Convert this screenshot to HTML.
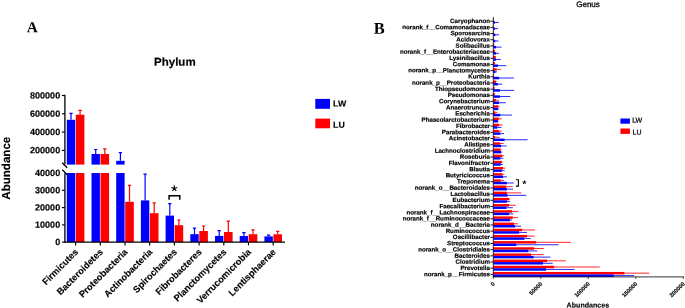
<!DOCTYPE html>
<html><head><meta charset="utf-8"><title>Figure</title>
<style>html,body{margin:0;padding:0;background:#fff;}body{width:685px;height:308px;position:relative;overflow:hidden;font-family:"Liberation Sans",sans-serif;}</style></head>
<body>
<svg width="685" height="308" viewBox="0 0 685 308" style="position:absolute;left:0;top:0;will-change:transform;text-rendering:geometricPrecision;font-family:'Liberation Sans',sans-serif">
<rect width="685" height="308" fill="#fff"/>
<text transform="translate(26.85,32.15) rotate(0.03)" font-family="'Liberation Serif',serif" font-weight="bold" font-size="15.3">A</text>
<text transform="translate(174.85,65.85) rotate(0.03)" font-weight="bold" font-size="11.5" text-anchor="middle" stroke="#000" stroke-width="0.2">Phylum</text>
<text transform="translate(9.9,168.2) rotate(-90)" font-weight="bold" font-size="11.55" text-anchor="middle" stroke="#000" stroke-width="0.15">Abundance</text>
<rect x="66.80" y="173.00" width="8.40" height="69.10" fill="#0000ff"/>
<rect x="75.80" y="173.00" width="8.60" height="69.10" fill="#ff0000"/>
<path d="M71.00 119.80V113.20M69.35 113.30H72.65" stroke="#0000ff" stroke-width="1.2" fill="none"/>
<rect x="66.80" y="119.80" width="8.40" height="44.80" fill="#0000ff"/>
<path d="M80.10 114.70V110.20M78.45 110.30H81.75" stroke="#ff0000" stroke-width="1.2" fill="none"/>
<rect x="75.80" y="114.70" width="8.60" height="49.90" fill="#ff0000"/>
<path d="M75.60 242.10v3.3" stroke="#000" stroke-width="1.15"/>
<text transform="translate(78.80,252.60) rotate(-45)" font-weight="bold" font-size="9.2" text-anchor="end" stroke="#000" stroke-width="0.15">Firmicutes</text>
<rect x="91.50" y="173.00" width="8.40" height="69.10" fill="#0000ff"/>
<rect x="100.50" y="173.00" width="8.60" height="69.10" fill="#ff0000"/>
<path d="M95.70 154.00V149.40M94.05 149.50H97.35" stroke="#0000ff" stroke-width="1.2" fill="none"/>
<rect x="91.50" y="154.00" width="8.40" height="10.60" fill="#0000ff"/>
<path d="M104.80 154.00V148.70M103.15 148.80H106.45" stroke="#ff0000" stroke-width="1.2" fill="none"/>
<rect x="100.50" y="154.00" width="8.60" height="10.60" fill="#ff0000"/>
<path d="M100.30 242.10v3.3" stroke="#000" stroke-width="1.15"/>
<text transform="translate(103.50,252.60) rotate(-45)" font-weight="bold" font-size="9.2" text-anchor="end" stroke="#000" stroke-width="0.15">Bacteroidetes</text>
<path d="M129.50 201.80V185.20M127.85 185.30H131.15" stroke="#ff0000" stroke-width="1.2" fill="none"/>
<rect x="116.20" y="173.00" width="8.40" height="69.10" fill="#0000ff"/>
<rect x="125.20" y="201.80" width="8.60" height="40.30" fill="#ff0000"/>
<path d="M120.40 160.80V152.60M118.75 152.70H122.05" stroke="#0000ff" stroke-width="1.2" fill="none"/>
<rect x="116.20" y="160.80" width="8.40" height="3.80" fill="#0000ff"/>
<path d="M125.00 242.10v3.3" stroke="#000" stroke-width="1.15"/>
<text transform="translate(128.20,252.60) rotate(-45)" font-weight="bold" font-size="9.2" text-anchor="end" stroke="#000" stroke-width="0.15">Proteobacteria</text>
<path d="M145.10 200.40V174.00M143.45 174.10H146.75" stroke="#0000ff" stroke-width="1.2" fill="none"/>
<path d="M154.20 213.20V202.70M152.55 202.80H155.85" stroke="#ff0000" stroke-width="1.2" fill="none"/>
<rect x="140.90" y="200.40" width="8.40" height="41.70" fill="#0000ff"/>
<rect x="149.90" y="213.20" width="8.60" height="28.90" fill="#ff0000"/>
<path d="M149.70 242.10v3.3" stroke="#000" stroke-width="1.15"/>
<text transform="translate(152.90,252.60) rotate(-45)" font-weight="bold" font-size="9.2" text-anchor="end" stroke="#000" stroke-width="0.15">Actinobacteria</text>
<path d="M169.80 215.60V203.60M168.15 203.70H171.45" stroke="#0000ff" stroke-width="1.2" fill="none"/>
<path d="M178.90 225.20V219.90M177.25 220.00H180.55" stroke="#ff0000" stroke-width="1.2" fill="none"/>
<rect x="165.60" y="215.60" width="8.40" height="26.50" fill="#0000ff"/>
<rect x="174.60" y="225.20" width="8.60" height="16.90" fill="#ff0000"/>
<path d="M174.40 242.10v3.3" stroke="#000" stroke-width="1.15"/>
<text transform="translate(177.60,252.60) rotate(-45)" font-weight="bold" font-size="9.2" text-anchor="end" stroke="#000" stroke-width="0.15">Spirochaetes</text>
<path d="M194.50 234.20V228.00M192.85 228.10H196.15" stroke="#0000ff" stroke-width="1.2" fill="none"/>
<path d="M203.60 231.00V225.90M201.95 226.00H205.25" stroke="#ff0000" stroke-width="1.2" fill="none"/>
<rect x="190.30" y="234.20" width="8.40" height="7.90" fill="#0000ff"/>
<rect x="199.30" y="231.00" width="8.60" height="11.10" fill="#ff0000"/>
<path d="M199.10 242.10v3.3" stroke="#000" stroke-width="1.15"/>
<text transform="translate(202.30,252.60) rotate(-45)" font-weight="bold" font-size="9.2" text-anchor="end" stroke="#000" stroke-width="0.15">Fibrobacteres</text>
<path d="M219.20 235.90V230.60M217.55 230.70H220.85" stroke="#0000ff" stroke-width="1.2" fill="none"/>
<path d="M228.30 232.00V221.00M226.65 221.10H229.95" stroke="#ff0000" stroke-width="1.2" fill="none"/>
<rect x="215.00" y="235.90" width="8.40" height="6.20" fill="#0000ff"/>
<rect x="224.00" y="232.00" width="8.60" height="10.10" fill="#ff0000"/>
<path d="M223.80 242.10v3.3" stroke="#000" stroke-width="1.15"/>
<text transform="translate(227.00,252.60) rotate(-45)" font-weight="bold" font-size="9.2" text-anchor="end" stroke="#000" stroke-width="0.15">Planctomycetes</text>
<path d="M243.90 236.00V232.50M242.25 232.60H245.55" stroke="#0000ff" stroke-width="1.2" fill="none"/>
<path d="M253.00 234.20V229.70M251.35 229.80H254.65" stroke="#ff0000" stroke-width="1.2" fill="none"/>
<rect x="239.70" y="236.00" width="8.40" height="6.10" fill="#0000ff"/>
<rect x="248.70" y="234.20" width="8.60" height="7.90" fill="#ff0000"/>
<path d="M248.50 242.10v3.3" stroke="#000" stroke-width="1.15"/>
<text transform="translate(251.70,252.60) rotate(-45)" font-weight="bold" font-size="9.2" text-anchor="end" stroke="#000" stroke-width="0.15">Verrucomicrobia</text>
<path d="M268.60 236.40V235.00M266.95 235.10H270.25" stroke="#0000ff" stroke-width="1.2" fill="none"/>
<path d="M277.70 234.30V231.30M276.05 231.40H279.35" stroke="#ff0000" stroke-width="1.2" fill="none"/>
<rect x="264.40" y="236.40" width="8.40" height="5.70" fill="#0000ff"/>
<rect x="273.40" y="234.30" width="8.60" height="7.80" fill="#ff0000"/>
<path d="M273.20 242.10v3.3" stroke="#000" stroke-width="1.15"/>
<text transform="translate(276.40,252.60) rotate(-45)" font-weight="bold" font-size="9.2" text-anchor="end" stroke="#000" stroke-width="0.15">Lentisphaerae</text>
<path d="M64.9 94.8V164.3M64.9 173.2V242.70" stroke="#000" stroke-width="1.3" fill="none"/>
<path d="M64.30000000000001 242.1H285" stroke="#000" stroke-width="1.3" fill="none"/>
<path d="M62.2 162.7L67.2 167.7M62.2 169.6L67.2 174.7" stroke="#000" stroke-width="1.3" fill="none"/>
<path d="M61.9 95.5H64.9" stroke="#000" stroke-width="1.15"/>
<text transform="translate(60.2,98.45) rotate(0.03)" font-weight="bold" font-size="9.05" text-anchor="end" stroke="#000" stroke-width="0.15">800000</text>
<path d="M61.9 113.8H64.9" stroke="#000" stroke-width="1.15"/>
<text transform="translate(60.2,116.75) rotate(0.03)" font-weight="bold" font-size="9.05" text-anchor="end" stroke="#000" stroke-width="0.15">600000</text>
<path d="M61.9 132.1H64.9" stroke="#000" stroke-width="1.15"/>
<text transform="translate(60.2,135.05) rotate(0.03)" font-weight="bold" font-size="9.05" text-anchor="end" stroke="#000" stroke-width="0.15">400000</text>
<path d="M61.9 150.4H64.9" stroke="#000" stroke-width="1.15"/>
<text transform="translate(60.2,153.35) rotate(0.03)" font-weight="bold" font-size="9.05" text-anchor="end" stroke="#000" stroke-width="0.15">200000</text>
<text transform="translate(60.2,175.95) rotate(0.03)" font-weight="bold" font-size="9.05" text-anchor="end" stroke="#000" stroke-width="0.15">40000</text>
<path d="M61.9 190.3H64.9" stroke="#000" stroke-width="1.15"/>
<text transform="translate(60.2,193.25) rotate(0.03)" font-weight="bold" font-size="9.05" text-anchor="end" stroke="#000" stroke-width="0.15">30000</text>
<path d="M61.9 207.6H64.9" stroke="#000" stroke-width="1.15"/>
<text transform="translate(60.2,210.55) rotate(0.03)" font-weight="bold" font-size="9.05" text-anchor="end" stroke="#000" stroke-width="0.15">20000</text>
<path d="M61.9 224.9H64.9" stroke="#000" stroke-width="1.15"/>
<text transform="translate(60.2,227.85) rotate(0.03)" font-weight="bold" font-size="9.05" text-anchor="end" stroke="#000" stroke-width="0.15">10000</text>
<path d="M61.9 242.1H64.9" stroke="#000" stroke-width="1.15"/>
<text transform="translate(60.2,245.05) rotate(0.03)" font-weight="bold" font-size="9.05" text-anchor="end" stroke="#000" stroke-width="0.15">0</text>
<path d="M169.1 199.8V195.7H179.8V199.8" stroke="#000" stroke-width="1.5" fill="none"/>
<path d="M174.30 188.40L174.30 185.20M174.30 188.40L177.34 187.41M174.30 188.40L176.18 190.99M174.30 188.40L172.42 190.99M174.30 188.40L171.26 187.41" stroke="#000" stroke-width="1.1" fill="none"/>
<rect x="315.30" y="98.90" width="14.70" height="9.90" fill="#0000ff"/>
<rect x="315.30" y="118.60" width="14.70" height="9.70" fill="#ff0000"/>
<text transform="translate(333.1,106.4) rotate(0.03)" font-weight="bold" font-size="8.8" stroke="#000" stroke-width="0.15">LW</text>
<text transform="translate(333.1,127.8) rotate(0.03)" font-weight="bold" font-size="8.8" stroke="#000" stroke-width="0.15">LU</text>
<text transform="translate(373.7,33.7) rotate(0.03)" font-family="'Liberation Serif',serif" font-weight="bold" font-size="16.4">B</text>
<text transform="translate(588,6.9) rotate(0.03)" font-size="8" text-anchor="middle" stroke="#000" stroke-width="0.3">Genus</text>
<path d="M493.80 20.00H494.00" stroke="#ff0000" stroke-width="0.85"/>
<path d="M495.00 22.45H498.80" stroke="#0000ff" stroke-width="0.85"/>
<rect x="493.30" y="18.80" width="0.50" height="2.45" fill="#ff0000"/>
<rect x="493.30" y="21.25" width="1.70" height="2.45" fill="#0000ff"/>
<path d="M490.40 21.20H493.30" stroke="#000" stroke-width="0.9"/>
<text transform="translate(490.00,23.00) rotate(0.03)" font-weight="bold" font-size="6.2" text-anchor="end" stroke="#000" stroke-width="0.18">Caryophanon</text>
<path d="M493.80 26.17H494.00" stroke="#ff0000" stroke-width="0.85"/>
<path d="M495.00 28.62H498.10" stroke="#0000ff" stroke-width="0.85"/>
<rect x="493.30" y="24.97" width="0.50" height="2.45" fill="#ff0000"/>
<rect x="493.30" y="27.42" width="1.70" height="2.45" fill="#0000ff"/>
<path d="M490.40 27.37H493.30" stroke="#000" stroke-width="0.9"/>
<text transform="translate(490.00,29.17) rotate(0.03)" font-weight="bold" font-size="6.2" text-anchor="end" stroke="#000" stroke-width="0.18">norank_f__Comamonadaceae</text>
<path d="M493.80 32.35H494.00" stroke="#ff0000" stroke-width="0.85"/>
<path d="M495.50 34.80H499.00" stroke="#0000ff" stroke-width="0.85"/>
<rect x="493.30" y="31.15" width="0.50" height="2.45" fill="#ff0000"/>
<rect x="493.30" y="33.60" width="2.20" height="2.45" fill="#0000ff"/>
<path d="M490.40 33.55H493.30" stroke="#000" stroke-width="0.9"/>
<text transform="translate(490.00,35.35) rotate(0.03)" font-weight="bold" font-size="6.2" text-anchor="end" stroke="#000" stroke-width="0.18">Sporosarcina</text>
<path d="M493.80 38.52H494.00" stroke="#ff0000" stroke-width="0.85"/>
<path d="M495.30 40.97H498.50" stroke="#0000ff" stroke-width="0.85"/>
<rect x="493.30" y="37.32" width="0.50" height="2.45" fill="#ff0000"/>
<rect x="493.30" y="39.77" width="2.00" height="2.45" fill="#0000ff"/>
<path d="M490.40 39.72H493.30" stroke="#000" stroke-width="0.9"/>
<text transform="translate(490.00,41.52) rotate(0.03)" font-weight="bold" font-size="6.2" text-anchor="end" stroke="#000" stroke-width="0.18">Acidovorax</text>
<path d="M494.20 44.70H494.40" stroke="#ff0000" stroke-width="0.85"/>
<path d="M496.10 47.15H501.60" stroke="#0000ff" stroke-width="0.85"/>
<rect x="493.30" y="43.50" width="0.90" height="2.45" fill="#ff0000"/>
<rect x="493.30" y="45.95" width="2.80" height="2.45" fill="#0000ff"/>
<path d="M490.40 45.90H493.30" stroke="#000" stroke-width="0.9"/>
<text transform="translate(490.00,47.70) rotate(0.03)" font-weight="bold" font-size="6.2" text-anchor="end" stroke="#000" stroke-width="0.18">Solibacillus</text>
<path d="M494.90 50.87H495.20" stroke="#ff0000" stroke-width="0.85"/>
<path d="M496.10 53.32H499.00" stroke="#0000ff" stroke-width="0.85"/>
<rect x="493.30" y="49.67" width="1.60" height="2.45" fill="#ff0000"/>
<rect x="493.30" y="52.12" width="2.80" height="2.45" fill="#0000ff"/>
<path d="M490.40 52.07H493.30" stroke="#000" stroke-width="0.9"/>
<text transform="translate(490.00,53.87) rotate(0.03)" font-weight="bold" font-size="6.2" text-anchor="end" stroke="#000" stroke-width="0.18">norank_f__Enterobacteriaceae</text>
<path d="M495.80 57.05H496.20" stroke="#ff0000" stroke-width="0.85"/>
<path d="M496.10 59.50H500.80" stroke="#0000ff" stroke-width="0.85"/>
<rect x="493.30" y="55.85" width="2.50" height="2.45" fill="#ff0000"/>
<rect x="493.30" y="58.30" width="2.80" height="2.45" fill="#0000ff"/>
<path d="M490.40 58.25H493.30" stroke="#000" stroke-width="0.9"/>
<text transform="translate(490.00,60.05) rotate(0.03)" font-weight="bold" font-size="6.2" text-anchor="end" stroke="#000" stroke-width="0.18">Lysinibacillus</text>
<path d="M494.90 63.22H495.20" stroke="#ff0000" stroke-width="0.85"/>
<path d="M498.10 65.67H506.30" stroke="#0000ff" stroke-width="0.85"/>
<rect x="493.30" y="62.02" width="1.60" height="2.45" fill="#ff0000"/>
<rect x="493.30" y="64.47" width="4.80" height="2.45" fill="#0000ff"/>
<path d="M490.40 64.42H493.30" stroke="#000" stroke-width="0.9"/>
<text transform="translate(490.00,66.22) rotate(0.03)" font-weight="bold" font-size="6.2" text-anchor="end" stroke="#000" stroke-width="0.18">Comamonas</text>
<path d="M496.70 69.40H500.80" stroke="#ff0000" stroke-width="0.85"/>
<path d="M495.50 71.85H497.00" stroke="#0000ff" stroke-width="0.85"/>
<rect x="493.30" y="68.20" width="3.40" height="2.45" fill="#ff0000"/>
<rect x="493.30" y="70.65" width="2.20" height="2.45" fill="#0000ff"/>
<path d="M490.40 70.60H493.30" stroke="#000" stroke-width="0.9"/>
<text transform="translate(490.00,72.40) rotate(0.03)" font-weight="bold" font-size="6.2" text-anchor="end" stroke="#000" stroke-width="0.18">norank_p__Planctomycetes</text>
<path d="M494.00 75.57H494.20" stroke="#ff0000" stroke-width="0.85"/>
<path d="M499.20 78.02H513.80" stroke="#0000ff" stroke-width="0.85"/>
<rect x="493.30" y="74.37" width="0.70" height="2.45" fill="#ff0000"/>
<rect x="493.30" y="76.82" width="5.90" height="2.45" fill="#0000ff"/>
<path d="M490.40 76.77H493.30" stroke="#000" stroke-width="0.9"/>
<text transform="translate(490.00,78.57) rotate(0.03)" font-weight="bold" font-size="6.2" text-anchor="end" stroke="#000" stroke-width="0.18">Kurthia</text>
<path d="M496.00 81.75H496.70" stroke="#ff0000" stroke-width="0.85"/>
<path d="M497.90 84.20H502.30" stroke="#0000ff" stroke-width="0.85"/>
<rect x="493.30" y="80.55" width="2.70" height="2.45" fill="#ff0000"/>
<rect x="493.30" y="83.00" width="4.60" height="2.45" fill="#0000ff"/>
<path d="M490.40 82.95H493.30" stroke="#000" stroke-width="0.9"/>
<text transform="translate(490.00,84.75) rotate(0.03)" font-weight="bold" font-size="6.2" text-anchor="end" stroke="#000" stroke-width="0.18">norank_p__Proteobacteria</text>
<path d="M494.50 87.92H494.80" stroke="#ff0000" stroke-width="0.85"/>
<path d="M500.00 90.37H514.20" stroke="#0000ff" stroke-width="0.85"/>
<rect x="493.30" y="86.72" width="1.20" height="2.45" fill="#ff0000"/>
<rect x="493.30" y="89.17" width="6.70" height="2.45" fill="#0000ff"/>
<path d="M490.40 89.12H493.30" stroke="#000" stroke-width="0.9"/>
<text transform="translate(490.00,90.92) rotate(0.03)" font-weight="bold" font-size="6.2" text-anchor="end" stroke="#000" stroke-width="0.18">Thiopseudomonas</text>
<path d="M494.80 94.10H495.20" stroke="#ff0000" stroke-width="0.85"/>
<path d="M500.00 96.55H510.30" stroke="#0000ff" stroke-width="0.85"/>
<rect x="493.30" y="92.90" width="1.50" height="2.45" fill="#ff0000"/>
<rect x="493.30" y="95.35" width="6.70" height="2.45" fill="#0000ff"/>
<path d="M490.40 95.30H493.30" stroke="#000" stroke-width="0.9"/>
<text transform="translate(490.00,97.10) rotate(0.03)" font-weight="bold" font-size="6.2" text-anchor="end" stroke="#000" stroke-width="0.18">Pseudomonas</text>
<path d="M496.00 100.27H498.90" stroke="#ff0000" stroke-width="0.85"/>
<path d="M499.20 102.72H505.90" stroke="#0000ff" stroke-width="0.85"/>
<rect x="493.30" y="99.07" width="2.70" height="2.45" fill="#ff0000"/>
<rect x="493.30" y="101.52" width="5.90" height="2.45" fill="#0000ff"/>
<path d="M490.40 101.47H493.30" stroke="#000" stroke-width="0.9"/>
<text transform="translate(490.00,103.27) rotate(0.03)" font-weight="bold" font-size="6.2" text-anchor="end" stroke="#000" stroke-width="0.18">Corynebacterium</text>
<path d="M498.20 106.45H499.60" stroke="#ff0000" stroke-width="0.85"/>
<path d="M497.90 108.90H499.20" stroke="#0000ff" stroke-width="0.85"/>
<rect x="493.30" y="105.25" width="4.90" height="2.45" fill="#ff0000"/>
<rect x="493.30" y="107.70" width="4.60" height="2.45" fill="#0000ff"/>
<path d="M490.40 107.65H493.30" stroke="#000" stroke-width="0.9"/>
<text transform="translate(490.00,109.45) rotate(0.03)" font-weight="bold" font-size="6.2" text-anchor="end" stroke="#000" stroke-width="0.18">Anaerotruncus</text>
<path d="M495.50 112.62H497.40" stroke="#ff0000" stroke-width="0.85"/>
<path d="M500.40 115.07H512.00" stroke="#0000ff" stroke-width="0.85"/>
<rect x="493.30" y="111.42" width="2.20" height="2.45" fill="#ff0000"/>
<rect x="493.30" y="113.87" width="7.10" height="2.45" fill="#0000ff"/>
<path d="M490.40 113.82H493.30" stroke="#000" stroke-width="0.9"/>
<text transform="translate(490.00,115.62) rotate(0.03)" font-weight="bold" font-size="6.2" text-anchor="end" stroke="#000" stroke-width="0.18">Escherichia</text>
<path d="M498.90 118.80H501.80" stroke="#ff0000" stroke-width="0.85"/>
<path d="M497.90 121.25H498.50" stroke="#0000ff" stroke-width="0.85"/>
<rect x="493.30" y="117.60" width="5.60" height="2.45" fill="#ff0000"/>
<rect x="493.30" y="120.05" width="4.60" height="2.45" fill="#0000ff"/>
<path d="M490.40 120.00H493.30" stroke="#000" stroke-width="0.9"/>
<text transform="translate(490.00,121.80) rotate(0.03)" font-weight="bold" font-size="6.2" text-anchor="end" stroke="#000" stroke-width="0.18">Phascolarctobacterium</text>
<path d="M499.30 124.97H502.80" stroke="#ff0000" stroke-width="0.85"/>
<path d="M497.40 127.42H501.40" stroke="#0000ff" stroke-width="0.85"/>
<rect x="493.30" y="123.77" width="6.00" height="2.45" fill="#ff0000"/>
<rect x="493.30" y="126.22" width="4.10" height="2.45" fill="#0000ff"/>
<path d="M490.40 126.17H493.30" stroke="#000" stroke-width="0.9"/>
<text transform="translate(490.00,127.97) rotate(0.03)" font-weight="bold" font-size="6.2" text-anchor="end" stroke="#000" stroke-width="0.18">Fibrobacter</text>
<path d="M498.90 131.15H501.80" stroke="#ff0000" stroke-width="0.85"/>
<path d="M500.40 133.60H504.00" stroke="#0000ff" stroke-width="0.85"/>
<rect x="493.30" y="129.95" width="5.60" height="2.45" fill="#ff0000"/>
<rect x="493.30" y="132.40" width="7.10" height="2.45" fill="#0000ff"/>
<path d="M490.40 132.35H493.30" stroke="#000" stroke-width="0.9"/>
<text transform="translate(490.00,134.15) rotate(0.03)" font-weight="bold" font-size="6.2" text-anchor="end" stroke="#000" stroke-width="0.18">Parabacteroides</text>
<path d="M495.20 137.32H499.60" stroke="#ff0000" stroke-width="0.85"/>
<path d="M504.70 139.77H527.70" stroke="#0000ff" stroke-width="0.85"/>
<rect x="493.30" y="136.12" width="1.90" height="2.45" fill="#ff0000"/>
<rect x="493.30" y="138.57" width="11.40" height="2.45" fill="#0000ff"/>
<path d="M490.40 138.52H493.30" stroke="#000" stroke-width="0.9"/>
<text transform="translate(490.00,140.32) rotate(0.03)" font-weight="bold" font-size="6.2" text-anchor="end" stroke="#000" stroke-width="0.18">Acinetobacter</text>
<path d="M500.00 143.50H503.60" stroke="#ff0000" stroke-width="0.85"/>
<path d="M501.00 145.95H506.50" stroke="#0000ff" stroke-width="0.85"/>
<rect x="493.30" y="142.30" width="6.70" height="2.45" fill="#ff0000"/>
<rect x="493.30" y="144.75" width="7.70" height="2.45" fill="#0000ff"/>
<path d="M490.40 144.70H493.30" stroke="#000" stroke-width="0.9"/>
<text transform="translate(490.00,146.50) rotate(0.03)" font-weight="bold" font-size="6.2" text-anchor="end" stroke="#000" stroke-width="0.18">Alistipes</text>
<path d="M500.60 149.67H501.50" stroke="#ff0000" stroke-width="0.85"/>
<path d="M501.00 152.12H502.30" stroke="#0000ff" stroke-width="0.85"/>
<rect x="493.30" y="148.47" width="7.30" height="2.45" fill="#ff0000"/>
<rect x="493.30" y="150.92" width="7.70" height="2.45" fill="#0000ff"/>
<path d="M490.40 150.87H493.30" stroke="#000" stroke-width="0.9"/>
<text transform="translate(490.00,152.67) rotate(0.03)" font-weight="bold" font-size="6.2" text-anchor="end" stroke="#000" stroke-width="0.18">Lachnoclostridium</text>
<path d="M502.30 155.85H504.00" stroke="#ff0000" stroke-width="0.85"/>
<path d="M500.40 158.30H503.30" stroke="#0000ff" stroke-width="0.85"/>
<rect x="493.30" y="154.65" width="9.00" height="2.45" fill="#ff0000"/>
<rect x="493.30" y="157.10" width="7.10" height="2.45" fill="#0000ff"/>
<path d="M490.40 157.05H493.30" stroke="#000" stroke-width="0.9"/>
<text transform="translate(490.00,158.85) rotate(0.03)" font-weight="bold" font-size="6.2" text-anchor="end" stroke="#000" stroke-width="0.18">Roseburia</text>
<path d="M501.80 162.02H502.50" stroke="#ff0000" stroke-width="0.85"/>
<path d="M500.80 164.47H502.80" stroke="#0000ff" stroke-width="0.85"/>
<rect x="493.30" y="160.82" width="8.50" height="2.45" fill="#ff0000"/>
<rect x="493.30" y="163.27" width="7.50" height="2.45" fill="#0000ff"/>
<path d="M490.40 163.22H493.30" stroke="#000" stroke-width="0.9"/>
<text transform="translate(490.00,165.02) rotate(0.03)" font-weight="bold" font-size="6.2" text-anchor="end" stroke="#000" stroke-width="0.18">Flavonifractor</text>
<path d="M503.00 168.20H505.20" stroke="#ff0000" stroke-width="0.85"/>
<path d="M501.80 170.65H504.70" stroke="#0000ff" stroke-width="0.85"/>
<rect x="493.30" y="167.00" width="9.70" height="2.45" fill="#ff0000"/>
<rect x="493.30" y="169.45" width="8.50" height="2.45" fill="#0000ff"/>
<path d="M490.40 169.40H493.30" stroke="#000" stroke-width="0.9"/>
<text transform="translate(490.00,171.20) rotate(0.03)" font-weight="bold" font-size="6.2" text-anchor="end" stroke="#000" stroke-width="0.18">Blautia</text>
<path d="M502.30 174.37H504.30" stroke="#ff0000" stroke-width="0.85"/>
<path d="M503.00 176.82H506.90" stroke="#0000ff" stroke-width="0.85"/>
<rect x="493.30" y="173.17" width="9.00" height="2.45" fill="#ff0000"/>
<rect x="493.30" y="175.62" width="9.70" height="2.45" fill="#0000ff"/>
<path d="M490.40 175.57H493.30" stroke="#000" stroke-width="0.9"/>
<text transform="translate(490.00,177.37) rotate(0.03)" font-weight="bold" font-size="6.2" text-anchor="end" stroke="#000" stroke-width="0.18">Butyricicoccus</text>
<path d="M500.80 180.55H504.00" stroke="#ff0000" stroke-width="0.85"/>
<path d="M506.90 183.00H513.80" stroke="#0000ff" stroke-width="0.85"/>
<rect x="493.30" y="179.35" width="7.50" height="2.45" fill="#ff0000"/>
<rect x="493.30" y="181.80" width="13.60" height="2.45" fill="#0000ff"/>
<path d="M490.40 181.75H493.30" stroke="#000" stroke-width="0.9"/>
<text transform="translate(490.00,183.55) rotate(0.03)" font-weight="bold" font-size="6.2" text-anchor="end" stroke="#000" stroke-width="0.18">Treponema</text>
<path d="M506.20 186.72H512.80" stroke="#ff0000" stroke-width="0.85"/>
<path d="M506.90 189.17H513.10" stroke="#0000ff" stroke-width="0.85"/>
<rect x="493.30" y="185.52" width="12.90" height="2.45" fill="#ff0000"/>
<rect x="493.30" y="187.97" width="13.60" height="2.45" fill="#0000ff"/>
<path d="M490.40 187.92H493.30" stroke="#000" stroke-width="0.9"/>
<text transform="translate(490.00,189.72) rotate(0.03)" font-weight="bold" font-size="6.2" text-anchor="end" stroke="#000" stroke-width="0.18">norank_o__Bacteroidales</text>
<path d="M506.90 192.90H521.30" stroke="#ff0000" stroke-width="0.85"/>
<path d="M507.70 195.35H526.20" stroke="#0000ff" stroke-width="0.85"/>
<rect x="493.30" y="191.70" width="13.60" height="2.45" fill="#ff0000"/>
<rect x="493.30" y="194.15" width="14.40" height="2.45" fill="#0000ff"/>
<path d="M490.40 194.10H493.30" stroke="#000" stroke-width="0.9"/>
<text transform="translate(490.00,195.90) rotate(0.03)" font-weight="bold" font-size="6.2" text-anchor="end" stroke="#000" stroke-width="0.18">Lactobacillus</text>
<path d="M509.10 199.07H510.10" stroke="#ff0000" stroke-width="0.85"/>
<path d="M506.90 201.52H509.90" stroke="#0000ff" stroke-width="0.85"/>
<rect x="493.30" y="197.87" width="15.80" height="2.45" fill="#ff0000"/>
<rect x="493.30" y="200.32" width="13.60" height="2.45" fill="#0000ff"/>
<path d="M490.40 200.27H493.30" stroke="#000" stroke-width="0.9"/>
<text transform="translate(490.00,202.07) rotate(0.03)" font-weight="bold" font-size="6.2" text-anchor="end" stroke="#000" stroke-width="0.18">Eubacterium</text>
<path d="M509.10 205.25H515.70" stroke="#ff0000" stroke-width="0.85"/>
<path d="M506.50 207.70H512.80" stroke="#0000ff" stroke-width="0.85"/>
<rect x="493.30" y="204.05" width="15.80" height="2.45" fill="#ff0000"/>
<rect x="493.30" y="206.50" width="13.20" height="2.45" fill="#0000ff"/>
<path d="M490.40 206.45H493.30" stroke="#000" stroke-width="0.9"/>
<text transform="translate(490.00,208.25) rotate(0.03)" font-weight="bold" font-size="6.2" text-anchor="end" stroke="#000" stroke-width="0.18">Faecalibacterium</text>
<path d="M512.00 211.42H518.30" stroke="#ff0000" stroke-width="0.85"/>
<path d="M509.10 213.87H513.20" stroke="#0000ff" stroke-width="0.85"/>
<rect x="493.30" y="210.22" width="18.70" height="2.45" fill="#ff0000"/>
<rect x="493.30" y="212.67" width="15.80" height="2.45" fill="#0000ff"/>
<path d="M490.40 212.62H493.30" stroke="#000" stroke-width="0.9"/>
<text transform="translate(490.00,214.42) rotate(0.03)" font-weight="bold" font-size="6.2" text-anchor="end" stroke="#000" stroke-width="0.18">norank_f__Lachnospiraceae</text>
<path d="M512.80 217.60H517.90" stroke="#ff0000" stroke-width="0.85"/>
<path d="M509.90 220.05H512.00" stroke="#0000ff" stroke-width="0.85"/>
<rect x="493.30" y="216.40" width="19.50" height="2.45" fill="#ff0000"/>
<rect x="493.30" y="218.85" width="16.60" height="2.45" fill="#0000ff"/>
<path d="M490.40 218.80H493.30" stroke="#000" stroke-width="0.9"/>
<text transform="translate(490.00,220.60) rotate(0.03)" font-weight="bold" font-size="6.2" text-anchor="end" stroke="#000" stroke-width="0.18">norank_f__Ruminococcaceae</text>
<path d="M513.90 223.77H517.90" stroke="#ff0000" stroke-width="0.85"/>
<path d="M515.00 226.22H521.10" stroke="#0000ff" stroke-width="0.85"/>
<rect x="493.30" y="222.57" width="20.60" height="2.45" fill="#ff0000"/>
<rect x="493.30" y="225.02" width="21.70" height="2.45" fill="#0000ff"/>
<path d="M490.40 224.97H493.30" stroke="#000" stroke-width="0.9"/>
<text transform="translate(490.00,226.77) rotate(0.03)" font-weight="bold" font-size="6.2" text-anchor="end" stroke="#000" stroke-width="0.18">norank_d__Bacteria</text>
<path d="M522.00 229.95H535.00" stroke="#ff0000" stroke-width="0.85"/>
<path d="M519.10 232.40H527.00" stroke="#0000ff" stroke-width="0.85"/>
<rect x="493.30" y="228.75" width="28.70" height="2.45" fill="#ff0000"/>
<rect x="493.30" y="231.20" width="25.80" height="2.45" fill="#0000ff"/>
<path d="M490.40 231.15H493.30" stroke="#000" stroke-width="0.9"/>
<text transform="translate(490.00,232.95) rotate(0.03)" font-weight="bold" font-size="6.2" text-anchor="end" stroke="#000" stroke-width="0.18">Ruminococcus</text>
<path d="M527.00 236.12H534.70" stroke="#ff0000" stroke-width="0.85"/>
<path d="M524.50 238.57H530.80" stroke="#0000ff" stroke-width="0.85"/>
<rect x="493.30" y="234.92" width="33.70" height="2.45" fill="#ff0000"/>
<rect x="493.30" y="237.37" width="31.20" height="2.45" fill="#0000ff"/>
<path d="M490.40 237.32H493.30" stroke="#000" stroke-width="0.9"/>
<text transform="translate(490.00,239.12) rotate(0.03)" font-weight="bold" font-size="6.2" text-anchor="end" stroke="#000" stroke-width="0.18">Oscillibacter</text>
<path d="M536.20 242.30H570.80" stroke="#ff0000" stroke-width="0.85"/>
<path d="M516.40 244.75H558.50" stroke="#0000ff" stroke-width="0.85"/>
<rect x="493.30" y="241.10" width="42.90" height="2.45" fill="#ff0000"/>
<rect x="493.30" y="243.55" width="23.10" height="2.45" fill="#0000ff"/>
<path d="M490.40 243.50H493.30" stroke="#000" stroke-width="0.9"/>
<text transform="translate(490.00,245.30) rotate(0.03)" font-weight="bold" font-size="6.2" text-anchor="end" stroke="#000" stroke-width="0.18">Streptococcus</text>
<path d="M534.00 248.47H543.80" stroke="#ff0000" stroke-width="0.85"/>
<path d="M528.40 250.92H537.30" stroke="#0000ff" stroke-width="0.85"/>
<rect x="493.30" y="247.27" width="40.70" height="2.45" fill="#ff0000"/>
<rect x="493.30" y="249.72" width="35.10" height="2.45" fill="#0000ff"/>
<path d="M490.40 249.67H493.30" stroke="#000" stroke-width="0.9"/>
<text transform="translate(490.00,251.47) rotate(0.03)" font-weight="bold" font-size="6.2" text-anchor="end" stroke="#000" stroke-width="0.18">norank_o__Clostridiales</text>
<path d="M531.00 254.65H543.80" stroke="#ff0000" stroke-width="0.85"/>
<path d="M533.70 257.10H550.40" stroke="#0000ff" stroke-width="0.85"/>
<rect x="493.30" y="253.45" width="37.70" height="2.45" fill="#ff0000"/>
<rect x="493.30" y="255.90" width="40.40" height="2.45" fill="#0000ff"/>
<path d="M490.40 255.85H493.30" stroke="#000" stroke-width="0.9"/>
<text transform="translate(490.00,257.65) rotate(0.03)" font-weight="bold" font-size="6.2" text-anchor="end" stroke="#000" stroke-width="0.18">Bacteroides</text>
<path d="M547.10 260.82H565.80" stroke="#ff0000" stroke-width="0.85"/>
<path d="M543.00 263.27H552.70" stroke="#0000ff" stroke-width="0.85"/>
<rect x="493.30" y="259.62" width="53.80" height="2.45" fill="#ff0000"/>
<rect x="493.30" y="262.07" width="49.70" height="2.45" fill="#0000ff"/>
<path d="M490.40 262.02H493.30" stroke="#000" stroke-width="0.9"/>
<text transform="translate(490.00,263.82) rotate(0.03)" font-weight="bold" font-size="6.2" text-anchor="end" stroke="#000" stroke-width="0.18">Clostridium</text>
<path d="M554.20 267.00H599.70" stroke="#ff0000" stroke-width="0.85"/>
<path d="M546.00 269.45H574.60" stroke="#0000ff" stroke-width="0.85"/>
<rect x="493.30" y="265.80" width="60.90" height="2.45" fill="#ff0000"/>
<rect x="493.30" y="268.25" width="52.70" height="2.45" fill="#0000ff"/>
<path d="M490.40 268.20H493.30" stroke="#000" stroke-width="0.9"/>
<text transform="translate(490.00,270.00) rotate(0.03)" font-weight="bold" font-size="6.2" text-anchor="end" stroke="#000" stroke-width="0.18">Prevotella</text>
<path d="M624.50 273.17H649.30" stroke="#ff0000" stroke-width="0.85"/>
<path d="M613.90 275.62H634.10" stroke="#0000ff" stroke-width="0.85"/>
<rect x="493.30" y="271.97" width="131.20" height="2.45" fill="#ff0000"/>
<rect x="493.30" y="274.42" width="120.60" height="2.45" fill="#0000ff"/>
<path d="M490.40 274.37H493.30" stroke="#000" stroke-width="0.9"/>
<text transform="translate(490.00,276.17) rotate(0.03)" font-weight="bold" font-size="6.2" text-anchor="end" stroke="#000" stroke-width="0.18">norank_p__Firmicutes</text>
<path d="M493.3 16.8V277.29999999999995" stroke="#000" stroke-width="0.8" fill="none"/>
<path d="M492.90000000000003 276.9H684" stroke="#000" stroke-width="0.8" fill="none"/>
<path d="M493.30 276.9v2" stroke="#000" stroke-width="0.7"/>
<text transform="translate(495.20,284.20) rotate(-45)" font-weight="bold" font-size="5.7" stroke="#000" stroke-width="0.15" text-anchor="end">0</text>
<path d="M540.80 276.9v2" stroke="#000" stroke-width="0.7"/>
<text transform="translate(542.70,284.20) rotate(-45)" font-weight="bold" font-size="5.7" stroke="#000" stroke-width="0.15" text-anchor="end">50000</text>
<path d="M588.30 276.9v2" stroke="#000" stroke-width="0.7"/>
<text transform="translate(590.20,284.20) rotate(-45)" font-weight="bold" font-size="5.7" stroke="#000" stroke-width="0.15" text-anchor="end">100000</text>
<path d="M635.80 276.9v2" stroke="#000" stroke-width="0.7"/>
<text transform="translate(637.70,284.20) rotate(-45)" font-weight="bold" font-size="5.7" stroke="#000" stroke-width="0.15" text-anchor="end">150000</text>
<path d="M683.30 276.9v2" stroke="#000" stroke-width="0.7"/>
<text transform="translate(685.20,284.20) rotate(-45)" font-weight="bold" font-size="5.7" stroke="#000" stroke-width="0.15" text-anchor="end">200000</text>
<text transform="translate(587.9,307.6) rotate(0.03)" font-weight="bold" font-size="7.1" text-anchor="middle" stroke="#000" stroke-width="0.15">Abundances</text>
<path d="M515.9 179.7H518.4V186.1H515.9" stroke="#000" stroke-width="1.1" fill="none"/>
<path d="M524.40 182.40L524.40 180.50M524.40 182.40L526.21 181.81M524.40 182.40L525.52 183.94M524.40 182.40L523.28 183.94M524.40 182.40L522.59 181.81" stroke="#000" stroke-width="1.0" fill="none"/>
<rect x="620.40" y="118.50" width="9.50" height="5.20" fill="#0000ff"/>
<rect x="620.40" y="128.50" width="9.50" height="5.40" fill="#ff0000"/>
<text transform="translate(632.2,122.4) rotate(0.03)" font-size="7" stroke="#000" stroke-width="0.25">LW</text>
<text transform="translate(632.6,134.4) rotate(0.03)" font-size="7" stroke="#000" stroke-width="0.25">LU</text>
</svg>
</body></html>
